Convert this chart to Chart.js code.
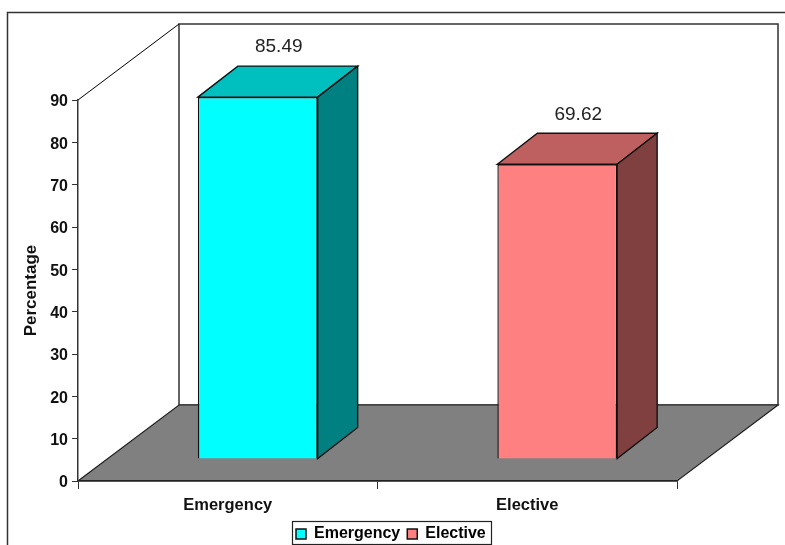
<!DOCTYPE html>
<html>
<head>
<meta charset="utf-8">
<title>Percentage by admission type</title>
<script src="https://cdn.jsdelivr.net/npm/chart.js@4/dist/chart.umd.min.js"></script>
<style>
	html, body { margin: 0; padding: 0; background: #fff; overflow: hidden; }
	/* the reference is a slightly soft, rescaled image */
	canvas { display: block; filter: blur(0.35px); }
</style>
</head>
<body>
<canvas id="admissionChart" width="785" height="545"></canvas>
<script>
const categories = ["Emergency", "Elective"];
const percentages = [85.49, 69.62];
const valueLabels = ["85.49", "69.62"];
const yMin = 0;
const yMax = 90;
const yStep = 10;
const axisTitle = "Percentage";

const frontColors = ["#00FFFF", "#FF8080"];
const topColors = ["#00BFBF", "#BF6060"];
const sideColors = ["#008080", "#804040"];

const fontFamily = "'Liberation Sans', Arial, sans-serif";
const lineColor = "#333333";

// 3D look: how far the box reaches back, and where bars stand on the floor
const depthX = 101, depthY = 76;
const barShiftX = 30, barShiftY = 22;
const barDepthX = 40, barDepthY = 31;

function poly(ctx, points, fill, stroke, width) {
	ctx.beginPath();
	points.forEach((p, i) => i === 0 ? ctx.moveTo(p[0], p[1]) : ctx.lineTo(p[0], p[1]));
	ctx.closePath();
	if (fill) {
		ctx.fillStyle = fill;
		ctx.fill();
	}
	ctx.strokeStyle = stroke;
	ctx.lineWidth = width;
	ctx.stroke();
}

const box3d = {
	id: "box3d",
	afterLayout(chart) {
		chart.legend.left = 289;
		chart.legend.top = 519;
		// chart.js clips tick labels to the scale box, let the descenders through
		chart.scales.x.bottom = 521;
	},
	beforeDraw(chart) {
		const { ctx, chartArea: a } = chart;
		// y tick labels sit a touch lower than chart.js puts them
		chart.scales.y.getLabelItems().forEach(item => {
			if (!item.nudged) {
				item.options.translation[1] += 2;
				item.nudged = true;
			}
		});
		ctx.save();
		// outer frame, runs off the page to the right and bottom
		ctx.strokeStyle = lineColor;
		ctx.lineWidth = 1.5;
		ctx.beginPath();
		ctx.moveTo(7.5, 546);
		ctx.lineTo(7.5, 12.5);
		ctx.lineTo(786, 12.5);
		ctx.stroke();
		// back wall
		poly(ctx, [[a.left + depthX, a.top - depthY], [a.right + depthX, a.top - depthY], [a.right + depthX, a.bottom - depthY], [a.left + depthX, a.bottom - depthY]], "#fff", lineColor, 1.5);
		// side wall top edge
		ctx.strokeStyle = "#000";
		ctx.lineWidth = 1;
		ctx.beginPath();
		ctx.moveTo(a.left, a.top);
		ctx.lineTo(a.left + depthX, a.top - depthY);
		ctx.stroke();
		// floor
		poly(ctx, [[a.left, a.bottom], [a.right, a.bottom], [a.right + depthX, a.bottom - depthY], [a.left + depthX, a.bottom - depthY]], "#808080", "#222", 1.2);
		ctx.restore();
	},
	beforeDatasetsDraw(chart) {
		const { ctx } = chart;
		ctx.save();
		ctx.translate(barShiftX, -barShiftY);
		chart.getDatasetMeta(0).data.forEach((bar, i) => {
			const l = bar.x - bar.width / 2, r = bar.x + bar.width / 2;
			poly(ctx, [[l, bar.y], [r, bar.y], [r + barDepthX, bar.y - barDepthY], [l + barDepthX, bar.y - barDepthY]], topColors[i], "#111", 1.4);
			poly(ctx, [[r, bar.y], [r + barDepthX, bar.y - barDepthY], [r + barDepthX, bar.base - barDepthY], [r, bar.base]], sideColors[i], "#111", 1.4);
		});
	},
	afterDatasetsDraw(chart) {
		const { ctx } = chart;
		ctx.restore();
		ctx.save();
		ctx.fillStyle = "#222";
		ctx.font = "19px " + fontFamily;
		ctx.textAlign = "center";
		ctx.textBaseline = "middle";
		chart.getDatasetMeta(0).data.forEach((bar, i) => {
			ctx.fillText(valueLabels[i], bar.x + barShiftX + barDepthX / 2 + 1, bar.y - barShiftY - barDepthY - 19);
		});
		ctx.restore();
	},
	afterDraw(chart) {
		// legend frame
		const { ctx } = chart;
		ctx.save();
		ctx.strokeStyle = "#222";
		ctx.lineWidth = 1.2;
		ctx.strokeRect(292.5, 521.5, 199, 23);
		ctx.restore();
	}
};

new Chart(document.getElementById("admissionChart"), {
	type: "bar",
	data: {
		labels: categories,
		datasets: [{
			data: percentages,
			backgroundColor: frontColors,
			borderColor: "#111",
			borderWidth: 1.4,
			barPercentage: 0.4,
			categoryPercentage: 1,
			clip: false
		}]
	},
	plugins: [box3d],
	options: {
		responsive: false,
		animation: false,
		layout: { padding: { left: 0, right: 108, top: 100, bottom: 0 } },
		plugins: {
			tooltip: { enabled: false },
			legend: {
				position: "bottom",
				align: "start",
				labels: {
					boxWidth: 10,
					boxHeight: 10,
					padding: 7,
					color: "#111",
					font: { family: fontFamily, size: 16, weight: "bold" },
					generateLabels: () => categories.map((c, i) => ({
						text: c,
						fillStyle: frontColors[i],
						strokeStyle: "#111",
						lineWidth: 1.5,
						index: i
					}))
				}
			}
		},
		scales: {
			x: {
				afterFit: s => { s.height = 31; },
				grid: { drawOnChartArea: false, drawTicks: true, tickLength: 8, color: lineColor, offset: true },
				border: { color: "#222", width: 1.5 },
				ticks: { color: "#111", padding: 7, font: { family: fontFamily, size: 16.5, weight: "bold" } }
			},
			y: {
				min: yMin,
				max: yMax,
				afterFit: s => { s.width = 78; },
				title: {
					display: true,
					text: axisTitle,
					color: "#111",
					padding: { top: 21, bottom: 0 },
					font: { family: fontFamily, size: 17, weight: "bold" }
				},
				grid: { drawOnChartArea: false, tickLength: 6, color: lineColor },
				border: { color: lineColor, width: 1.5 },
				ticks: { stepSize: yStep, color: "#111", padding: 4, font: { family: fontFamily, size: 16, weight: "bold" } }
			}
		}
	}
});
</script>
</body>
</html>
